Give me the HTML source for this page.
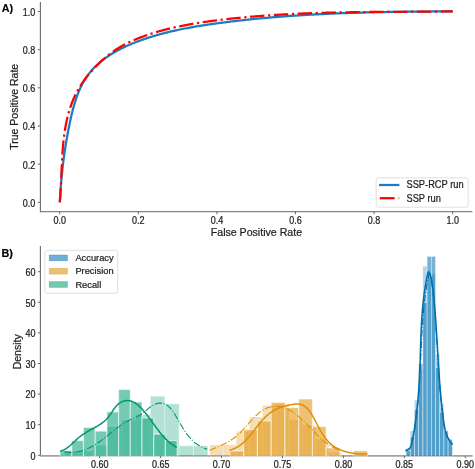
<!DOCTYPE html>
<html><head><meta charset="utf-8"><style>
html,body{margin:0;padding:0;background:#fff;}
body{width:475px;height:469px;overflow:hidden;font-family:"Liberation Sans",sans-serif;}
svg{display:block;will-change:transform;filter:blur(0.3px);}
</style></head><body>
<svg width="475" height="469" viewBox="0 0 475 469">
<rect width="475" height="469" fill="#fff"/>
<path d="M59.80,202.30 L59.87,200.99 L59.94,199.68 L60.01,198.37 L60.08,197.07 L60.16,195.77 L60.24,194.47 L60.32,193.18 L60.41,191.89 L60.50,190.60 L60.59,189.31 L60.68,188.03 L60.78,186.75 L60.88,185.47 L60.98,184.20 L61.08,182.93 L61.19,181.66 L61.30,180.39 L61.41,179.12 L61.53,177.86 L61.65,176.59 L61.77,175.33 L61.89,174.07 L62.02,172.82 L62.15,171.56 L62.29,170.31 L62.42,169.05 L62.56,167.80 L62.71,166.55 L62.85,165.30 L63.00,164.05 L63.16,162.80 L63.31,161.55 L63.47,160.30 L63.63,159.05 L63.80,157.81 L63.97,156.56 L64.14,155.31 L64.31,154.07 L64.49,152.82 L64.67,151.57 L64.86,150.32 L65.05,149.08 L65.24,147.83 L65.44,146.58 L65.64,145.33 L65.84,144.08 L66.05,142.83 L66.26,141.58 L66.47,140.32 L66.69,139.07 L66.91,137.81 L67.13,136.56 L67.36,135.30 L67.59,134.04 L67.83,132.78 L68.07,131.52 L68.31,130.25 L68.56,128.98 L68.81,127.71 L69.06,126.44 L69.32,125.17 L69.58,123.89 L69.85,122.62 L70.12,121.34 L70.40,120.05 L70.68,118.77 L70.96,117.49 L71.25,116.21 L71.55,114.92 L71.86,113.64 L72.17,112.36 L72.49,111.08 L72.81,109.81 L73.15,108.53 L73.49,107.26 L73.84,105.99 L74.21,104.73 L74.58,103.47 L74.96,102.22 L75.35,100.97 L75.75,99.73 L76.16,98.49 L76.59,97.26 L77.03,96.04 L77.48,94.83 L77.94,93.62 L78.41,92.42 L78.90,91.24 L79.40,90.06 L79.92,88.89 L80.45,87.73 L81.00,86.58 L81.56,85.45 L82.13,84.32 L82.73,83.21 L83.33,82.11 L83.96,81.03 L84.60,79.95 L85.26,78.89 L85.94,77.85 L86.64,76.82 L87.35,75.81 L88.09,74.81 L88.84,73.82 L89.60,72.85 L90.39,71.90 L91.19,70.96 L92.00,70.03 L92.84,69.11 L93.68,68.21 L94.55,67.33 L95.43,66.45 L96.32,65.59 L97.22,64.75 L98.15,63.91 L99.08,63.09 L100.03,62.28 L100.99,61.49 L101.96,60.71 L102.95,59.94 L103.95,59.18 L104.96,58.43 L105.98,57.70 L107.01,56.97 L108.05,56.26 L109.11,55.56 L110.17,54.87 L111.24,54.19 L112.33,53.53 L113.42,52.87 L114.52,52.23 L115.63,51.59 L116.75,50.97 L117.88,50.35 L119.01,49.75 L120.16,49.16 L121.30,48.57 L122.46,48.00 L123.62,47.43 L124.79,46.88 L125.96,46.33 L127.14,45.79 L128.33,45.27 L129.52,44.75 L130.71,44.24 L131.91,43.73 L133.11,43.24 L134.32,42.75 L135.53,42.28 L136.74,41.81 L137.96,41.35 L139.18,40.89 L140.40,40.45 L141.62,40.01 L142.84,39.57 L144.06,39.15 L145.29,38.73 L146.52,38.32 L147.74,37.92 L148.97,37.52 L150.20,37.13 L151.43,36.74 L152.66,36.37 L153.89,35.99 L155.13,35.63 L156.36,35.27 L157.60,34.92 L158.83,34.57 L160.07,34.23 L161.31,33.89 L162.55,33.56 L163.79,33.24 L165.03,32.92 L166.27,32.61 L167.51,32.30 L168.75,32.00 L170.00,31.70 L171.24,31.41 L172.49,31.12 L173.73,30.83 L174.98,30.56 L176.23,30.28 L177.48,30.01 L178.72,29.75 L179.97,29.49 L181.22,29.23 L182.48,28.98 L183.73,28.73 L184.98,28.49 L186.23,28.25 L187.49,28.02 L188.74,27.78 L190.00,27.55 L191.25,27.33 L192.51,27.11 L193.76,26.89 L195.02,26.68 L196.28,26.46 L197.54,26.26 L198.79,26.05 L200.05,25.85 L201.31,25.65 L202.57,25.45 L203.83,25.26 L205.09,25.06 L206.36,24.87 L207.62,24.69 L208.88,24.50 L210.14,24.32 L211.40,24.14 L212.67,23.96 L213.93,23.78 L215.19,23.61 L216.46,23.43 L217.72,23.26 L218.99,23.09 L220.25,22.92 L221.52,22.76 L222.78,22.59 L224.05,22.43 L225.32,22.27 L226.58,22.11 L227.85,21.95 L229.12,21.79 L230.38,21.64 L231.65,21.48 L232.92,21.33 L234.19,21.18 L235.46,21.03 L236.72,20.88 L237.99,20.74 L239.26,20.59 L240.53,20.45 L241.80,20.31 L243.07,20.17 L244.34,20.03 L245.61,19.89 L246.88,19.75 L248.16,19.62 L249.43,19.49 L250.70,19.36 L251.97,19.23 L253.24,19.10 L254.51,18.97 L255.79,18.85 L257.06,18.72 L258.33,18.60 L259.60,18.48 L260.88,18.36 L262.15,18.24 L263.43,18.12 L264.70,18.01 L265.97,17.89 L267.25,17.78 L268.52,17.67 L269.80,17.56 L271.07,17.45 L272.35,17.34 L273.62,17.23 L274.90,17.13 L276.17,17.02 L277.45,16.92 L278.73,16.82 L280.00,16.72 L281.28,16.62 L282.55,16.52 L283.83,16.43 L285.11,16.33 L286.38,16.24 L287.66,16.15 L288.94,16.05 L290.22,15.96 L291.49,15.87 L292.77,15.79 L294.05,15.70 L295.33,15.61 L296.61,15.53 L297.88,15.45 L299.16,15.36 L300.44,15.28 L301.72,15.20 L303.00,15.13 L304.28,15.05 L305.56,14.97 L306.84,14.90 L308.12,14.82 L309.39,14.75 L310.67,14.68 L311.95,14.60 L313.23,14.53 L314.51,14.47 L315.79,14.40 L317.07,14.33 L318.35,14.26 L319.63,14.20 L320.91,14.14 L322.19,14.07 L323.47,14.01 L324.75,13.95 L326.03,13.89 L327.32,13.83 L328.60,13.77 L329.88,13.72 L331.16,13.66 L332.44,13.60 L333.72,13.55 L335.00,13.50 L336.28,13.44 L337.56,13.39 L338.84,13.34 L340.12,13.29 L341.41,13.24 L342.69,13.20 L343.97,13.15 L345.25,13.10 L346.53,13.06 L347.81,13.01 L349.09,12.97 L350.37,12.92 L351.66,12.88 L352.94,12.84 L354.22,12.80 L355.50,12.76 L356.78,12.72 L358.06,12.68 L359.34,12.65 L360.63,12.61 L361.91,12.57 L363.19,12.54 L364.47,12.50 L365.75,12.47 L367.03,12.44 L368.31,12.40 L369.60,12.37 L370.88,12.34 L372.16,12.31 L373.44,12.28 L374.72,12.25 L376.00,12.22 L377.28,12.19 L378.56,12.17 L379.84,12.14 L381.13,12.11 L382.41,12.09 L383.69,12.06 L384.97,12.04 L386.25,12.02 L387.53,11.99 L388.81,11.97 L390.09,11.95 L391.37,11.93 L392.65,11.91 L393.93,11.89 L395.21,11.87 L396.49,11.85 L397.77,11.83 L399.05,11.81 L400.33,11.79 L401.61,11.78 L402.89,11.76 L404.17,11.74 L405.45,11.73 L406.73,11.71 L408.01,11.70 L409.29,11.68 L410.57,11.67 L411.85,11.66 L413.13,11.64 L414.41,11.63 L415.68,11.62 L416.96,11.61 L418.24,11.60 L419.52,11.58 L420.80,11.57 L422.08,11.56 L423.35,11.55 L424.63,11.54 L425.91,11.53 L427.19,11.52 L428.46,11.52 L429.74,11.51 L431.02,11.50 L432.29,11.49 L433.57,11.48 L434.85,11.48 L436.12,11.47 L437.40,11.46 L438.68,11.46 L439.95,11.45 L441.23,11.44 L442.50,11.44 L443.78,11.43 L445.05,11.43 L446.33,11.42 L447.60,11.42 L448.88,11.41 L450.15,11.41 L451.43,11.40 L452.70,11.40" fill="none" stroke="#1a7cc2" stroke-width="2.25" stroke-linejoin="round"/>
<path d="M59.80,202.30 L59.91,201.05 L60.01,199.81 L60.11,198.56 L60.21,197.30 L60.30,196.05 L60.38,194.79 L60.46,193.52 L60.54,192.26 L60.62,190.99 L60.69,189.71 L60.76,188.44 L60.82,187.16 L60.89,185.88 L60.95,184.60 L61.01,183.32 L61.07,182.03 L61.12,180.74 L61.18,179.45 L61.23,178.16 L61.29,176.87 L61.34,175.58 L61.40,174.28 L61.45,172.98 L61.50,171.69 L61.56,170.39 L61.61,169.09 L61.67,167.79 L61.73,166.49 L61.79,165.18 L61.85,163.88 L61.91,162.58 L61.98,161.28 L62.04,159.98 L62.12,158.67 L62.19,157.37 L62.27,156.07 L62.35,154.77 L62.43,153.47 L62.52,152.17 L62.61,150.87 L62.71,149.57 L62.81,148.27 L62.92,146.97 L63.03,145.68 L63.15,144.39 L63.28,143.09 L63.41,141.80 L63.54,140.51 L63.69,139.23 L63.84,137.94 L63.99,136.66 L64.16,135.38 L64.33,134.10 L64.51,132.82 L64.70,131.55 L64.89,130.28 L65.10,129.01 L65.31,127.74 L65.53,126.48 L65.76,125.22 L66.00,123.96 L66.26,122.71 L66.52,121.46 L66.79,120.21 L67.07,118.97 L67.36,117.73 L67.67,116.50 L67.98,115.27 L68.31,114.04 L68.64,112.82 L68.99,111.60 L69.36,110.39 L69.73,109.18 L70.12,107.98 L70.52,106.78 L70.93,105.58 L71.36,104.39 L71.80,103.21 L72.26,102.03 L72.73,100.86 L73.21,99.69 L73.71,98.53 L74.22,97.37 L74.75,96.22 L75.30,95.08 L75.86,93.94 L76.43,92.81 L77.03,91.68 L77.63,90.56 L78.26,89.45 L78.90,88.34 L79.56,87.25 L80.23,86.15 L80.92,85.07 L81.62,83.99 L82.34,82.92 L83.07,81.86 L83.81,80.80 L84.57,79.75 L85.34,78.71 L86.12,77.68 L86.92,76.65 L87.73,75.64 L88.55,74.63 L89.38,73.63 L90.22,72.63 L91.07,71.65 L91.94,70.68 L92.81,69.71 L93.69,68.75 L94.58,67.80 L95.49,66.86 L96.40,65.93 L97.32,65.01 L98.24,64.10 L99.18,63.19 L100.12,62.30 L101.07,61.42 L102.03,60.54 L102.99,59.68 L103.96,58.83 L104.94,57.98 L105.92,57.15 L106.91,56.33 L107.91,55.52 L108.92,54.72 L109.93,53.94 L110.96,53.17 L111.99,52.40 L113.03,51.66 L114.07,50.92 L115.13,50.20 L116.19,49.49 L117.26,48.80 L118.34,48.12 L119.43,47.46 L120.53,46.81 L121.63,46.17 L122.75,45.55 L123.87,44.94 L125.00,44.34 L126.14,43.76 L127.28,43.19 L128.43,42.63 L129.58,42.09 L130.74,41.55 L131.91,41.02 L133.07,40.51 L134.25,40.00 L135.43,39.50 L136.61,39.01 L137.79,38.53 L138.98,38.06 L140.17,37.59 L141.36,37.14 L142.56,36.69 L143.76,36.25 L144.96,35.81 L146.16,35.38 L147.37,34.96 L148.58,34.55 L149.79,34.15 L151.00,33.75 L152.22,33.36 L153.44,32.97 L154.66,32.59 L155.89,32.22 L157.11,31.86 L158.34,31.50 L159.57,31.15 L160.81,30.80 L162.04,30.46 L163.28,30.13 L164.52,29.80 L165.76,29.48 L167.00,29.16 L168.25,28.85 L169.49,28.55 L170.74,28.25 L171.99,27.96 L173.24,27.67 L174.50,27.39 L175.75,27.11 L177.01,26.84 L178.27,26.57 L179.53,26.31 L180.79,26.05 L182.05,25.79 L183.31,25.55 L184.58,25.30 L185.84,25.06 L187.11,24.83 L188.38,24.59 L189.65,24.37 L190.92,24.14 L192.19,23.92 L193.46,23.71 L194.74,23.50 L196.01,23.29 L197.28,23.08 L198.56,22.88 L199.84,22.69 L201.11,22.49 L202.39,22.30 L203.67,22.11 L204.94,21.93 L206.22,21.74 L207.50,21.56 L208.78,21.39 L210.06,21.21 L211.34,21.04 L212.62,20.87 L213.90,20.70 L215.18,20.54 L216.46,20.38 L217.74,20.22 L219.02,20.06 L220.30,19.90 L221.58,19.75 L222.86,19.59 L224.14,19.44 L225.42,19.30 L226.70,19.15 L227.98,19.00 L229.26,18.86 L230.54,18.72 L231.82,18.58 L233.10,18.45 L234.38,18.31 L235.67,18.18 L236.95,18.05 L238.23,17.92 L239.51,17.79 L240.79,17.67 L242.07,17.54 L243.35,17.42 L244.63,17.30 L245.91,17.18 L247.19,17.07 L248.47,16.95 L249.75,16.84 L251.03,16.73 L252.32,16.62 L253.60,16.51 L254.88,16.41 L256.16,16.30 L257.44,16.20 L258.72,16.10 L260.00,16.00 L261.28,15.90 L262.57,15.80 L263.85,15.71 L265.13,15.62 L266.41,15.53 L267.69,15.44 L268.97,15.35 L270.25,15.26 L271.54,15.18 L272.82,15.09 L274.10,15.01 L275.38,14.93 L276.66,14.85 L277.94,14.77 L279.23,14.69 L280.51,14.62 L281.79,14.55 L283.07,14.47 L284.35,14.40 L285.63,14.33 L286.92,14.26 L288.20,14.20 L289.48,14.13 L290.76,14.07 L292.05,14.00 L293.33,13.94 L294.61,13.88 L295.89,13.82 L297.17,13.76 L298.46,13.71 L299.74,13.65 L301.02,13.59 L302.30,13.54 L303.59,13.49 L304.87,13.44 L306.15,13.39 L307.43,13.34 L308.72,13.29 L310.00,13.24 L311.28,13.20 L312.57,13.15 L313.85,13.11 L315.13,13.07 L316.41,13.02 L317.70,12.98 L318.98,12.94 L320.26,12.91 L321.55,12.87 L322.83,12.83 L324.11,12.79 L325.40,12.76 L326.68,12.73 L327.96,12.69 L329.25,12.66 L330.53,12.63 L331.81,12.60 L333.10,12.57 L334.38,12.54 L335.66,12.51 L336.95,12.48 L338.23,12.46 L339.52,12.43 L340.80,12.40 L342.08,12.38 L343.37,12.36 L344.65,12.33 L345.94,12.31 L347.22,12.29 L348.50,12.27 L349.79,12.25 L351.07,12.23 L352.36,12.21 L353.64,12.19 L354.93,12.17 L356.21,12.15 L357.49,12.14 L358.78,12.12 L360.06,12.10 L361.35,12.09 L362.63,12.07 L363.92,12.06 L365.20,12.04 L366.49,12.03 L367.77,12.02 L369.06,12.00 L370.34,11.99 L371.63,11.98 L372.91,11.97 L374.20,11.96 L375.48,11.95 L376.77,11.94 L378.05,11.93 L379.34,11.92 L380.62,11.91 L381.91,11.90 L383.20,11.89 L384.48,11.88 L385.77,11.87 L387.05,11.86 L388.34,11.85 L389.62,11.85 L390.91,11.84 L392.20,11.83 L393.48,11.82 L394.77,11.82 L396.05,11.81 L397.34,11.80 L398.63,11.79 L399.91,11.79 L401.20,11.78 L402.49,11.77 L403.77,11.77 L405.06,11.76 L406.34,11.75 L407.63,11.75 L408.92,11.74 L410.20,11.73 L411.49,11.73 L412.78,11.72 L414.07,11.71 L415.35,11.71 L416.64,11.70 L417.93,11.69 L419.21,11.68 L420.50,11.68 L421.79,11.67 L423.08,11.66 L424.36,11.65 L425.65,11.64 L426.94,11.64 L428.23,11.63 L429.51,11.62 L430.80,11.61 L432.09,11.60 L433.38,11.59 L434.66,11.58 L435.95,11.57 L437.24,11.56 L438.53,11.55 L439.82,11.54 L441.10,11.52 L442.39,11.51 L443.68,11.50 L444.97,11.49 L446.26,11.47 L447.55,11.46 L448.83,11.44 L450.12,11.43 L451.41,11.41 L452.70,11.40" fill="none" stroke="#f00" stroke-width="2.25" stroke-dasharray="14.40 3.60 2.25 3.60" stroke-linejoin="round"/>
<line x1="40.4" y1="2.0" x2="40.4" y2="212.2" stroke="#6a6a6a" stroke-width="1.1"/>
<line x1="39.9" y1="211.6" x2="472.4" y2="211.6" stroke="#848484" stroke-width="1.4"/>
<line x1="37.8" y1="202.30" x2="40.4" y2="202.30" stroke="#6a6a6a" stroke-width="1"/>
<text transform="matrix(1,0,0,1.12,0,-24.37)" x="35.3" y="206.30" font-family="Liberation Sans, sans-serif" stroke="#1e1e1e" stroke-width="0.22" font-size="9" fill="#1e1e1e" text-anchor="end">0.0</text>
<line x1="37.8" y1="164.14" x2="40.4" y2="164.14" stroke="#6a6a6a" stroke-width="1"/>
<text transform="matrix(1,0,0,1.12,0,-19.79)" x="35.3" y="168.14" font-family="Liberation Sans, sans-serif" stroke="#1e1e1e" stroke-width="0.22" font-size="9" fill="#1e1e1e" text-anchor="end">0.2</text>
<line x1="37.8" y1="125.98" x2="40.4" y2="125.98" stroke="#6a6a6a" stroke-width="1"/>
<text transform="matrix(1,0,0,1.12,0,-15.21)" x="35.3" y="129.98" font-family="Liberation Sans, sans-serif" stroke="#1e1e1e" stroke-width="0.22" font-size="9" fill="#1e1e1e" text-anchor="end">0.4</text>
<line x1="37.8" y1="87.82" x2="40.4" y2="87.82" stroke="#6a6a6a" stroke-width="1"/>
<text transform="matrix(1,0,0,1.12,0,-10.63)" x="35.3" y="91.82" font-family="Liberation Sans, sans-serif" stroke="#1e1e1e" stroke-width="0.22" font-size="9" fill="#1e1e1e" text-anchor="end">0.6</text>
<line x1="37.8" y1="49.66" x2="40.4" y2="49.66" stroke="#6a6a6a" stroke-width="1"/>
<text transform="matrix(1,0,0,1.12,0,-6.06)" x="35.3" y="53.66" font-family="Liberation Sans, sans-serif" stroke="#1e1e1e" stroke-width="0.22" font-size="9" fill="#1e1e1e" text-anchor="end">0.8</text>
<line x1="37.8" y1="11.50" x2="40.4" y2="11.50" stroke="#6a6a6a" stroke-width="1"/>
<text transform="matrix(1,0,0,1.12,0,-1.48)" x="35.3" y="15.50" font-family="Liberation Sans, sans-serif" stroke="#1e1e1e" stroke-width="0.22" font-size="9" fill="#1e1e1e" text-anchor="end">1.0</text>
<line x1="59.70" y1="211.6" x2="59.70" y2="214.2" stroke="#6a6a6a" stroke-width="1"/>
<text transform="matrix(1,0,0,1.12,0,-26.45)" x="59.70" y="223.6" font-family="Liberation Sans, sans-serif" stroke="#1e1e1e" stroke-width="0.22" font-size="9" fill="#1e1e1e" text-anchor="middle">0.0</text>
<line x1="138.30" y1="211.6" x2="138.30" y2="214.2" stroke="#6a6a6a" stroke-width="1"/>
<text transform="matrix(1,0,0,1.12,0,-26.45)" x="138.30" y="223.6" font-family="Liberation Sans, sans-serif" stroke="#1e1e1e" stroke-width="0.22" font-size="9" fill="#1e1e1e" text-anchor="middle">0.2</text>
<line x1="216.90" y1="211.6" x2="216.90" y2="214.2" stroke="#6a6a6a" stroke-width="1"/>
<text transform="matrix(1,0,0,1.12,0,-26.45)" x="216.90" y="223.6" font-family="Liberation Sans, sans-serif" stroke="#1e1e1e" stroke-width="0.22" font-size="9" fill="#1e1e1e" text-anchor="middle">0.4</text>
<line x1="295.50" y1="211.6" x2="295.50" y2="214.2" stroke="#6a6a6a" stroke-width="1"/>
<text transform="matrix(1,0,0,1.12,0,-26.45)" x="295.50" y="223.6" font-family="Liberation Sans, sans-serif" stroke="#1e1e1e" stroke-width="0.22" font-size="9" fill="#1e1e1e" text-anchor="middle">0.6</text>
<line x1="374.10" y1="211.6" x2="374.10" y2="214.2" stroke="#6a6a6a" stroke-width="1"/>
<text transform="matrix(1,0,0,1.12,0,-26.45)" x="374.10" y="223.6" font-family="Liberation Sans, sans-serif" stroke="#1e1e1e" stroke-width="0.22" font-size="9" fill="#1e1e1e" text-anchor="middle">0.8</text>
<line x1="452.70" y1="211.6" x2="452.70" y2="214.2" stroke="#6a6a6a" stroke-width="1"/>
<text transform="matrix(1,0,0,1.12,0,-26.45)" x="452.70" y="223.6" font-family="Liberation Sans, sans-serif" stroke="#1e1e1e" stroke-width="0.22" font-size="9" fill="#1e1e1e" text-anchor="middle">1.0</text>
<text x="256.4" y="235.8" font-family="Liberation Sans, sans-serif" stroke="#1e1e1e" stroke-width="0.22" font-size="10.6" fill="#1e1e1e" text-anchor="middle">False Positive Rate</text>
<text transform="translate(18,106.8) rotate(-90)" x="0" y="0" font-family="Liberation Sans, sans-serif" stroke="#1e1e1e" stroke-width="0.22" font-size="10.5" fill="#1e1e1e" text-anchor="middle">True Positive Rate</text>
<text x="1.8" y="12.4" font-family="Liberation Sans, sans-serif" font-size="10.8" font-weight="bold" fill="#000" stroke="#000" stroke-width="0.12">A)</text>
<rect x="376.2" y="177.8" width="92.0" height="29.4" rx="2" ry="2" fill="#fff" fill-opacity="0.8" stroke="#dcdcdc" stroke-width="0.9"/>
<line x1="379" y1="185" x2="399.4" y2="185" stroke="#1a7cc2" stroke-width="2.25"/>
<line x1="379.8" y1="198.2" x2="394.6" y2="198.2" stroke="#f00" stroke-width="2.25"/>
<line x1="397.8" y1="198.2" x2="400.0" y2="198.2" stroke="#f00" stroke-opacity="0.25" stroke-width="2.25"/>
<text transform="matrix(1,0,0,1.08,0,-15.07)" x="406.5" y="188.4" font-family="Liberation Sans, sans-serif" stroke="#1e1e1e" stroke-width="0.22" font-size="9.3" fill="#1e1e1e">SSP-RCP run</text>
<text transform="matrix(1,0,0,1.08,0,-16.13)" x="406.5" y="201.6" font-family="Liberation Sans, sans-serif" stroke="#1e1e1e" stroke-width="0.22" font-size="9.3" fill="#1e1e1e">SSP run</text>
<line x1="40.4" y1="246.0" x2="40.4" y2="455.6" stroke="#6a6a6a" stroke-width="1.1"/>
<line x1="39.9" y1="455.9" x2="472.6" y2="455.9" stroke="#a2a2a2" stroke-width="1.6"/>
<rect x="64.40" y="451.32" width="14.34" height="4.88" fill="#029e73" fill-opacity="0.3" stroke="#fff" stroke-opacity="0.3" stroke-width="1.0"/>
<rect x="78.74" y="451.02" width="14.34" height="5.18" fill="#029e73" fill-opacity="0.3" stroke="#fff" stroke-opacity="0.3" stroke-width="1.0"/>
<rect x="93.08" y="445.51" width="14.34" height="10.69" fill="#029e73" fill-opacity="0.3" stroke="#fff" stroke-opacity="0.3" stroke-width="1.0"/>
<rect x="107.42" y="426.84" width="14.34" height="29.36" fill="#029e73" fill-opacity="0.3" stroke="#fff" stroke-opacity="0.3" stroke-width="1.0"/>
<rect x="121.76" y="420.11" width="14.34" height="36.09" fill="#029e73" fill-opacity="0.3" stroke="#fff" stroke-opacity="0.3" stroke-width="1.0"/>
<rect x="136.10" y="414.60" width="14.34" height="41.60" fill="#029e73" fill-opacity="0.3" stroke="#fff" stroke-opacity="0.3" stroke-width="1.0"/>
<rect x="150.44" y="396.24" width="14.34" height="59.96" fill="#029e73" fill-opacity="0.3" stroke="#fff" stroke-opacity="0.3" stroke-width="1.0"/>
<rect x="164.78" y="403.89" width="14.34" height="52.31" fill="#029e73" fill-opacity="0.3" stroke="#fff" stroke-opacity="0.3" stroke-width="1.0"/>
<rect x="179.12" y="445.81" width="14.34" height="10.39" fill="#029e73" fill-opacity="0.3" stroke="#fff" stroke-opacity="0.3" stroke-width="1.0"/>
<rect x="193.46" y="445.81" width="14.34" height="10.39" fill="#029e73" fill-opacity="0.3" stroke="#fff" stroke-opacity="0.3" stroke-width="1.0"/>
<rect x="60.10" y="450.40" width="11.70" height="5.80" fill="#029e73" fill-opacity="0.55" stroke="#fff" stroke-opacity="0.55" stroke-width="1.15"/>
<rect x="71.80" y="440.61" width="11.70" height="15.59" fill="#029e73" fill-opacity="0.55" stroke="#fff" stroke-opacity="0.55" stroke-width="1.15"/>
<rect x="83.50" y="427.45" width="11.70" height="28.75" fill="#029e73" fill-opacity="0.55" stroke="#fff" stroke-opacity="0.55" stroke-width="1.15"/>
<rect x="95.20" y="431.13" width="11.70" height="25.07" fill="#029e73" fill-opacity="0.55" stroke="#fff" stroke-opacity="0.55" stroke-width="1.15"/>
<rect x="106.90" y="411.85" width="11.70" height="44.35" fill="#029e73" fill-opacity="0.55" stroke="#fff" stroke-opacity="0.55" stroke-width="1.15"/>
<rect x="118.60" y="389.51" width="11.70" height="66.69" fill="#029e73" fill-opacity="0.55" stroke="#fff" stroke-opacity="0.55" stroke-width="1.15"/>
<rect x="130.30" y="402.06" width="11.70" height="54.14" fill="#029e73" fill-opacity="0.55" stroke="#fff" stroke-opacity="0.55" stroke-width="1.15"/>
<rect x="142.00" y="417.97" width="11.70" height="38.23" fill="#029e73" fill-opacity="0.55" stroke="#fff" stroke-opacity="0.55" stroke-width="1.15"/>
<rect x="153.70" y="434.19" width="11.70" height="22.01" fill="#029e73" fill-opacity="0.55" stroke="#fff" stroke-opacity="0.55" stroke-width="1.15"/>
<rect x="165.40" y="440.61" width="11.70" height="15.59" fill="#029e73" fill-opacity="0.55" stroke="#fff" stroke-opacity="0.55" stroke-width="1.15"/>
<rect x="209.80" y="444.90" width="13.20" height="11.30" fill="#de8f05" fill-opacity="0.3" stroke="#fff" stroke-opacity="0.3" stroke-width="1.0"/>
<rect x="223.00" y="444.90" width="13.20" height="11.30" fill="#de8f05" fill-opacity="0.3" stroke="#fff" stroke-opacity="0.3" stroke-width="1.0"/>
<rect x="236.20" y="431.43" width="13.20" height="24.77" fill="#de8f05" fill-opacity="0.3" stroke="#fff" stroke-opacity="0.3" stroke-width="1.0"/>
<rect x="249.40" y="417.05" width="13.20" height="39.15" fill="#de8f05" fill-opacity="0.3" stroke="#fff" stroke-opacity="0.3" stroke-width="1.0"/>
<rect x="262.60" y="405.42" width="13.20" height="50.78" fill="#de8f05" fill-opacity="0.3" stroke="#fff" stroke-opacity="0.3" stroke-width="1.0"/>
<rect x="275.80" y="403.89" width="13.20" height="52.31" fill="#de8f05" fill-opacity="0.3" stroke="#fff" stroke-opacity="0.3" stroke-width="1.0"/>
<rect x="289.00" y="419.50" width="13.20" height="36.70" fill="#de8f05" fill-opacity="0.3" stroke="#fff" stroke-opacity="0.3" stroke-width="1.0"/>
<rect x="302.20" y="425.01" width="13.20" height="31.19" fill="#de8f05" fill-opacity="0.3" stroke="#fff" stroke-opacity="0.3" stroke-width="1.0"/>
<rect x="315.40" y="439.08" width="13.20" height="17.12" fill="#de8f05" fill-opacity="0.3" stroke="#fff" stroke-opacity="0.3" stroke-width="1.0"/>
<rect x="328.60" y="452.24" width="13.20" height="3.96" fill="#de8f05" fill-opacity="0.3" stroke="#fff" stroke-opacity="0.3" stroke-width="1.0"/>
<rect x="229.90" y="451.02" width="13.76" height="5.18" fill="#de8f05" fill-opacity="0.55" stroke="#fff" stroke-opacity="0.55" stroke-width="1.15"/>
<rect x="243.66" y="429.60" width="13.76" height="26.60" fill="#de8f05" fill-opacity="0.55" stroke="#fff" stroke-opacity="0.55" stroke-width="1.15"/>
<rect x="257.42" y="421.03" width="13.76" height="35.17" fill="#de8f05" fill-opacity="0.55" stroke="#fff" stroke-opacity="0.55" stroke-width="1.15"/>
<rect x="271.18" y="402.36" width="13.76" height="53.84" fill="#de8f05" fill-opacity="0.55" stroke="#fff" stroke-opacity="0.55" stroke-width="1.15"/>
<rect x="284.94" y="407.56" width="13.76" height="48.64" fill="#de8f05" fill-opacity="0.55" stroke="#fff" stroke-opacity="0.55" stroke-width="1.15"/>
<rect x="298.70" y="399.00" width="13.76" height="57.20" fill="#de8f05" fill-opacity="0.55" stroke="#fff" stroke-opacity="0.55" stroke-width="1.15"/>
<rect x="312.46" y="426.54" width="13.76" height="29.66" fill="#de8f05" fill-opacity="0.55" stroke="#fff" stroke-opacity="0.55" stroke-width="1.15"/>
<rect x="326.22" y="447.96" width="13.76" height="8.24" fill="#de8f05" fill-opacity="0.55" stroke="#fff" stroke-opacity="0.55" stroke-width="1.15"/>
<rect x="353.74" y="450.71" width="13.76" height="5.49" fill="#de8f05" fill-opacity="0.55" stroke="#fff" stroke-opacity="0.55" stroke-width="1.15"/>
<rect x="406.10" y="448.26" width="4.20" height="7.94" fill="#0173b2" fill-opacity="0.3" stroke="#fff" stroke-opacity="0.3" stroke-width="0.7"/>
<rect x="410.30" y="430.82" width="4.20" height="25.38" fill="#0173b2" fill-opacity="0.3" stroke="#fff" stroke-opacity="0.3" stroke-width="0.7"/>
<rect x="414.50" y="400.22" width="4.20" height="55.98" fill="#0173b2" fill-opacity="0.3" stroke="#fff" stroke-opacity="0.3" stroke-width="0.7"/>
<rect x="418.70" y="369.62" width="4.20" height="86.58" fill="#0173b2" fill-opacity="0.3" stroke="#fff" stroke-opacity="0.3" stroke-width="0.7"/>
<rect x="422.90" y="266.19" width="4.20" height="190.01" fill="#0173b2" fill-opacity="0.3" stroke="#fff" stroke-opacity="0.3" stroke-width="0.7"/>
<rect x="427.10" y="277.82" width="4.20" height="178.38" fill="#0173b2" fill-opacity="0.3" stroke="#fff" stroke-opacity="0.3" stroke-width="0.7"/>
<rect x="431.30" y="274.15" width="4.20" height="182.05" fill="#0173b2" fill-opacity="0.3" stroke="#fff" stroke-opacity="0.3" stroke-width="0.7"/>
<rect x="435.50" y="354.32" width="4.20" height="101.88" fill="#0173b2" fill-opacity="0.3" stroke="#fff" stroke-opacity="0.3" stroke-width="0.7"/>
<rect x="439.70" y="403.28" width="4.20" height="52.92" fill="#0173b2" fill-opacity="0.3" stroke="#fff" stroke-opacity="0.3" stroke-width="0.7"/>
<rect x="443.90" y="432.35" width="4.20" height="23.85" fill="#0173b2" fill-opacity="0.3" stroke="#fff" stroke-opacity="0.3" stroke-width="0.7"/>
<rect x="448.10" y="441.53" width="4.20" height="14.67" fill="#0173b2" fill-opacity="0.3" stroke="#fff" stroke-opacity="0.3" stroke-width="0.7"/>
<rect x="406.10" y="450.71" width="4.20" height="5.49" fill="#0173b2" fill-opacity="0.55" stroke="#fff" stroke-opacity="0.55" stroke-width="0.7"/>
<rect x="410.30" y="436.94" width="4.20" height="19.26" fill="#0173b2" fill-opacity="0.55" stroke="#fff" stroke-opacity="0.55" stroke-width="0.7"/>
<rect x="414.50" y="409.40" width="4.20" height="46.80" fill="#0173b2" fill-opacity="0.55" stroke="#fff" stroke-opacity="0.55" stroke-width="0.7"/>
<rect x="418.70" y="363.50" width="4.20" height="92.70" fill="#0173b2" fill-opacity="0.55" stroke="#fff" stroke-opacity="0.55" stroke-width="0.7"/>
<rect x="422.90" y="302.30" width="4.20" height="153.90" fill="#0173b2" fill-opacity="0.55" stroke="#fff" stroke-opacity="0.55" stroke-width="0.7"/>
<rect x="427.10" y="256.40" width="4.20" height="199.80" fill="#0173b2" fill-opacity="0.55" stroke="#fff" stroke-opacity="0.55" stroke-width="0.7"/>
<rect x="431.30" y="256.40" width="4.20" height="199.80" fill="#0173b2" fill-opacity="0.55" stroke="#fff" stroke-opacity="0.55" stroke-width="0.7"/>
<rect x="435.50" y="367.48" width="4.20" height="88.72" fill="#0173b2" fill-opacity="0.55" stroke="#fff" stroke-opacity="0.55" stroke-width="0.7"/>
<rect x="439.70" y="412.46" width="4.20" height="43.74" fill="#0173b2" fill-opacity="0.55" stroke="#fff" stroke-opacity="0.55" stroke-width="0.7"/>
<rect x="443.90" y="430.82" width="4.20" height="25.38" fill="#0173b2" fill-opacity="0.55" stroke="#fff" stroke-opacity="0.55" stroke-width="0.7"/>
<rect x="448.10" y="439.39" width="4.20" height="16.81" fill="#0173b2" fill-opacity="0.55" stroke="#fff" stroke-opacity="0.55" stroke-width="0.7"/>
<path d="M60.10,451.20 L60.50,451.10 L60.89,450.98 L61.27,450.86 L61.65,450.73 L62.03,450.60 L62.40,450.46 L62.76,450.31 L63.13,450.16 L63.48,450.00 L63.84,449.83 L64.19,449.66 L64.53,449.48 L64.87,449.29 L65.21,449.10 L65.54,448.91 L65.87,448.71 L66.20,448.51 L66.53,448.30 L66.85,448.08 L67.16,447.86 L67.48,447.64 L67.79,447.41 L68.10,447.18 L68.41,446.95 L68.71,446.71 L69.02,446.47 L69.32,446.23 L69.61,445.98 L69.91,445.73 L70.21,445.48 L70.50,445.22 L70.79,444.96 L71.08,444.70 L71.37,444.44 L71.66,444.18 L71.95,443.91 L72.23,443.65 L72.52,443.38 L72.80,443.11 L73.09,442.84 L73.37,442.57 L73.66,442.30 L73.94,442.03 L74.22,441.75 L74.51,441.48 L74.79,441.21 L75.08,440.94 L75.36,440.67 L75.65,440.40 L75.94,440.13 L76.22,439.86 L76.51,439.59 L76.80,439.33 L77.09,439.06 L77.39,438.80 L77.68,438.54 L77.98,438.28 L78.27,438.02 L78.57,437.77 L78.87,437.51 L79.18,437.26 L79.48,437.02 L79.79,436.77 L80.10,436.53 L80.41,436.29 L80.73,436.05 L81.04,435.82 L81.36,435.59 L81.68,435.36 L82.00,435.13 L82.32,434.90 L82.64,434.68 L82.97,434.46 L83.29,434.24 L83.62,434.02 L83.95,433.80 L84.28,433.59 L84.61,433.37 L84.94,433.16 L85.27,432.95 L85.61,432.74 L85.94,432.54 L86.28,432.33 L86.61,432.13 L86.95,431.92 L87.29,431.72 L87.63,431.52 L87.96,431.32 L88.30,431.12 L88.64,430.93 L88.98,430.73 L89.32,430.54 L89.66,430.34 L90.01,430.15 L90.35,429.96 L90.69,429.76 L91.03,429.57 L91.37,429.38 L91.71,429.19 L92.05,429.00 L92.39,428.81 L92.73,428.62 L93.07,428.43 L93.41,428.24 L93.75,428.05 L94.09,427.87 L94.43,427.68 L94.77,427.49 L95.10,427.30 L95.44,427.11 L95.78,426.92 L96.11,426.74 L96.44,426.55 L96.78,426.36 L97.11,426.16 L97.44,425.97 L97.77,425.78 L98.10,425.59 L98.42,425.39 L98.75,425.19 L99.07,425.00 L99.40,424.80 L99.72,424.59 L100.04,424.39 L100.36,424.19 L100.67,423.98 L100.99,423.77 L101.30,423.56 L101.61,423.34 L101.92,423.12 L102.23,422.90 L102.53,422.68 L102.84,422.45 L103.14,422.22 L103.44,421.99 L103.74,421.75 L104.03,421.51 L104.32,421.27 L104.61,421.02 L104.90,420.77 L105.19,420.51 L105.47,420.25 L105.75,419.99 L106.02,419.72 L106.30,419.45 L106.57,419.17 L106.84,418.89 L107.10,418.60 L107.37,418.31 L107.63,418.01 L107.88,417.70 L108.14,417.39 L108.39,417.08 L108.64,416.76 L108.88,416.44 L109.13,416.11 L109.37,415.79 L109.61,415.45 L109.85,415.12 L110.09,414.78 L110.32,414.44 L110.56,414.10 L110.79,413.75 L111.02,413.41 L111.25,413.06 L111.48,412.71 L111.72,412.37 L111.95,412.02 L112.18,411.67 L112.41,411.32 L112.64,410.98 L112.87,410.63 L113.10,410.29 L113.34,409.94 L113.57,409.60 L113.81,409.27 L114.05,408.93 L114.28,408.60 L114.52,408.27 L114.77,407.94 L115.01,407.62 L115.26,407.30 L115.51,406.99 L115.76,406.68 L116.01,406.38 L116.27,406.08 L116.53,405.78 L116.79,405.50 L117.06,405.22 L117.33,404.94 L117.60,404.68 L117.88,404.42 L118.16,404.16 L118.45,403.92 L118.74,403.68 L119.04,403.45 L119.34,403.23 L119.64,403.02 L119.95,402.82 L120.26,402.62 L120.57,402.44 L120.89,402.26 L121.22,402.09 L121.54,401.93 L121.87,401.78 L122.20,401.64 L122.54,401.50 L122.87,401.38 L123.21,401.26 L123.55,401.16 L123.90,401.06 L124.24,400.97 L124.59,400.89 L124.94,400.82 L125.29,400.76 L125.64,400.71 L125.99,400.67 L126.34,400.64 L126.70,400.61 L127.05,400.60 L127.40,400.59 L127.76,400.60 L128.11,400.61 L128.47,400.64 L128.82,400.67 L129.17,400.71 L129.52,400.77 L129.87,400.83 L130.22,400.90 L130.57,400.99 L130.92,401.08 L131.27,401.18 L131.61,401.30 L131.95,401.42 L132.29,401.55 L132.63,401.69 L132.97,401.84 L133.30,402.00 L133.64,402.16 L133.97,402.34 L134.30,402.52 L134.63,402.71 L134.96,402.91 L135.28,403.12 L135.61,403.33 L135.93,403.55 L136.25,403.77 L136.57,404.00 L136.88,404.24 L137.20,404.49 L137.51,404.74 L137.82,404.99 L138.13,405.25 L138.44,405.52 L138.74,405.79 L139.05,406.06 L139.35,406.34 L139.65,406.63 L139.95,406.91 L140.25,407.20 L140.54,407.50 L140.83,407.80 L141.12,408.10 L141.41,408.40 L141.70,408.71 L141.99,409.01 L142.27,409.32 L142.55,409.64 L142.83,409.95 L143.11,410.27 L143.38,410.58 L143.66,410.90 L143.93,411.22 L144.20,411.54 L144.47,411.85 L144.73,412.17 L145.00,412.49 L145.26,412.81 L145.52,413.13 L145.78,413.45 L146.03,413.77 L146.29,414.09 L146.54,414.41 L146.79,414.73 L147.04,415.05 L147.29,415.37 L147.54,415.69 L147.78,416.01 L148.03,416.33 L148.27,416.65 L148.51,416.97 L148.75,417.29 L148.99,417.61 L149.23,417.92 L149.47,418.24 L149.70,418.56 L149.94,418.88 L150.17,419.20 L150.41,419.52 L150.64,419.84 L150.87,420.15 L151.10,420.47 L151.33,420.79 L151.56,421.10 L151.79,421.42 L152.02,421.74 L152.24,422.05 L152.47,422.37 L152.70,422.68 L152.92,423.00 L153.15,423.31 L153.37,423.63 L153.60,423.94 L153.82,424.25 L154.05,424.57 L154.27,424.88 L154.49,425.19 L154.72,425.50 L154.94,425.81 L155.17,426.12 L155.39,426.43 L155.62,426.74 L155.84,427.05 L156.06,427.35 L156.29,427.66 L156.51,427.97 L156.74,428.27 L156.97,428.58 L157.19,428.88 L157.42,429.18 L157.65,429.49 L157.87,429.79 L158.10,430.09 L158.33,430.39 L158.56,430.69 L158.79,430.99 L159.02,431.28 L159.26,431.58 L159.49,431.88 L159.72,432.17 L159.96,432.47 L160.19,432.76 L160.43,433.05 L160.67,433.34 L160.91,433.63 L161.15,433.92 L161.39,434.21 L161.63,434.50 L161.88,434.78 L162.12,435.07 L162.37,435.35 L162.62,435.64 L162.87,435.92 L163.12,436.20 L163.38,436.48 L163.63,436.76 L163.89,437.03 L164.15,437.31 L164.41,437.59 L164.67,437.86 L164.93,438.13 L165.20,438.40 L165.47,438.67 L165.74,438.94 L166.01,439.21 L166.28,439.47 L166.56,439.74 L166.84,440.00 L167.12,440.26 L167.40,440.53 L167.69,440.78 L167.97,441.04 L168.26,441.30 L168.56,441.55 L168.85,441.81 L169.15,442.06 L169.45,442.31 L169.75,442.56 L170.06,442.80 L170.36,443.05 L170.68,443.29 L170.99,443.54 L171.31,443.78 L171.63,444.02 L171.95,444.26 L172.27,444.49 L172.60,444.73 L172.93,444.96 L173.27,445.19 L173.61,445.42 L173.95,445.65 L174.29,445.87 L174.64,446.10 L174.99,446.32 L175.35,446.54 L175.71,446.76 L176.07,446.97 L176.43,447.19 L176.80,447.40" fill="none" stroke="#02966c" stroke-width="1.5"/>
<path d="M64.40,452.00 L64.87,452.07 L65.34,452.14 L65.81,452.20 L66.28,452.25 L66.75,452.30 L67.21,452.35 L67.68,452.38 L68.14,452.41 L68.60,452.44 L69.06,452.46 L69.52,452.47 L69.98,452.48 L70.43,452.49 L70.89,452.48 L71.34,452.47 L71.79,452.46 L72.24,452.44 L72.69,452.42 L73.14,452.39 L73.58,452.35 L74.03,452.31 L74.47,452.27 L74.91,452.22 L75.35,452.16 L75.79,452.11 L76.23,452.04 L76.67,451.97 L77.10,451.90 L77.54,451.82 L77.97,451.73 L78.40,451.65 L78.83,451.55 L79.26,451.46 L79.69,451.35 L80.11,451.25 L80.54,451.14 L80.96,451.02 L81.39,450.90 L81.81,450.78 L82.23,450.65 L82.65,450.52 L83.06,450.38 L83.48,450.25 L83.89,450.10 L84.31,449.95 L84.72,449.80 L85.13,449.65 L85.54,449.49 L85.95,449.33 L86.36,449.16 L86.77,448.99 L87.17,448.82 L87.58,448.64 L87.98,448.46 L88.38,448.28 L88.78,448.09 L89.18,447.90 L89.58,447.71 L89.98,447.52 L90.37,447.32 L90.77,447.11 L91.16,446.91 L91.55,446.70 L91.94,446.49 L92.33,446.28 L92.72,446.06 L93.11,445.84 L93.50,445.62 L93.88,445.40 L94.27,445.17 L94.65,444.94 L95.04,444.71 L95.42,444.47 L95.80,444.24 L96.18,444.00 L96.56,443.76 L96.93,443.51 L97.31,443.27 L97.68,443.02 L98.06,442.77 L98.43,442.52 L98.80,442.27 L99.17,442.01 L99.54,441.76 L99.91,441.50 L100.28,441.24 L100.65,440.98 L101.01,440.71 L101.38,440.45 L101.74,440.18 L102.11,439.91 L102.47,439.64 L102.83,439.37 L103.19,439.10 L103.55,438.83 L103.91,438.55 L104.26,438.28 L104.62,438.00 L104.98,437.72 L105.33,437.45 L105.68,437.17 L106.04,436.89 L106.39,436.61 L106.74,436.33 L107.09,436.04 L107.44,435.76 L107.79,435.48 L108.14,435.20 L108.49,434.91 L108.84,434.63 L109.19,434.35 L109.54,434.06 L109.89,433.78 L110.24,433.49 L110.59,433.21 L110.93,432.93 L111.28,432.64 L111.63,432.36 L111.98,432.08 L112.33,431.79 L112.68,431.51 L113.02,431.23 L113.37,430.95 L113.72,430.67 L114.07,430.39 L114.42,430.11 L114.77,429.83 L115.12,429.55 L115.47,429.28 L115.82,429.00 L116.18,428.73 L116.53,428.45 L116.88,428.18 L117.24,427.91 L117.59,427.64 L117.95,427.37 L118.31,427.11 L118.66,426.84 L119.02,426.58 L119.38,426.32 L119.74,426.06 L120.10,425.80 L120.47,425.55 L120.83,425.29 L121.20,425.04 L121.56,424.79 L121.93,424.54 L122.30,424.30 L122.67,424.05 L123.04,423.81 L123.42,423.57 L123.79,423.34 L124.17,423.10 L124.55,422.87 L124.93,422.65 L125.31,422.42 L125.69,422.20 L126.08,421.98 L126.47,421.76 L126.85,421.55 L127.25,421.33 L127.64,421.13 L128.03,420.92 L128.43,420.72 L128.83,420.52 L129.23,420.32 L129.63,420.12 L130.03,419.93 L130.43,419.73 L130.83,419.54 L131.24,419.35 L131.64,419.16 L132.05,418.97 L132.45,418.78 L132.86,418.59 L133.26,418.40 L133.67,418.22 L134.07,418.03 L134.48,417.84 L134.88,417.64 L135.29,417.45 L135.69,417.26 L136.09,417.06 L136.49,416.87 L136.89,416.67 L137.29,416.47 L137.69,416.26 L138.08,416.06 L138.48,415.85 L138.87,415.64 L139.26,415.42 L139.65,415.20 L140.03,414.98 L140.42,414.75 L140.80,414.52 L141.18,414.29 L141.55,414.05 L141.92,413.81 L142.29,413.56 L142.66,413.30 L143.02,413.05 L143.38,412.78 L143.74,412.51 L144.09,412.23 L144.44,411.95 L144.79,411.66 L145.13,411.37 L145.48,411.08 L145.82,410.78 L146.16,410.48 L146.50,410.18 L146.84,409.88 L147.18,409.58 L147.52,409.27 L147.86,408.97 L148.21,408.67 L148.56,408.37 L148.91,408.08 L149.26,407.79 L149.62,407.50 L149.98,407.22 L150.35,406.94 L150.72,406.67 L151.10,406.40 L151.48,406.14 L151.86,405.89 L152.25,405.65 L152.65,405.41 L153.04,405.18 L153.44,404.97 L153.84,404.76 L154.25,404.56 L154.66,404.37 L155.07,404.19 L155.48,404.03 L155.90,403.87 L156.32,403.73 L156.74,403.60 L157.16,403.48 L157.58,403.38 L158.00,403.29 L158.43,403.22 L158.85,403.16 L159.28,403.12 L159.71,403.09 L160.13,403.08 L160.56,403.08 L160.99,403.11 L161.41,403.14 L161.83,403.20 L162.25,403.26 L162.67,403.35 L163.08,403.45 L163.49,403.56 L163.89,403.68 L164.28,403.82 L164.67,403.98 L165.05,404.14 L165.43,404.32 L165.80,404.51 L166.17,404.72 L166.53,404.93 L166.88,405.16 L167.23,405.40 L167.57,405.64 L167.91,405.90 L168.24,406.17 L168.57,406.45 L168.89,406.73 L169.21,407.03 L169.52,407.33 L169.83,407.65 L170.13,407.97 L170.43,408.30 L170.73,408.63 L171.02,408.97 L171.31,409.32 L171.59,409.68 L171.87,410.04 L172.15,410.40 L172.42,410.77 L172.69,411.15 L172.96,411.53 L173.23,411.91 L173.49,412.30 L173.75,412.69 L174.01,413.09 L174.26,413.49 L174.51,413.89 L174.76,414.29 L175.01,414.69 L175.26,415.10 L175.50,415.50 L175.75,415.91 L175.99,416.32 L176.23,416.72 L176.47,417.13 L176.71,417.54 L176.94,417.94 L177.18,418.35 L177.41,418.75 L177.65,419.16 L177.88,419.56 L178.11,419.96 L178.35,420.36 L178.58,420.77 L178.81,421.17 L179.04,421.57 L179.27,421.96 L179.50,422.36 L179.73,422.76 L179.96,423.15 L180.19,423.55 L180.42,423.94 L180.65,424.34 L180.88,424.73 L181.11,425.12 L181.34,425.51 L181.57,425.89 L181.80,426.28 L182.03,426.67 L182.26,427.05 L182.49,427.43 L182.73,427.81 L182.96,428.19 L183.19,428.57 L183.43,428.95 L183.67,429.32 L183.90,429.69 L184.14,430.06 L184.38,430.43 L184.62,430.80 L184.86,431.17 L185.11,431.53 L185.35,431.89 L185.60,432.25 L185.85,432.61 L186.10,432.96 L186.35,433.32 L186.60,433.67 L186.86,434.02 L187.11,434.37 L187.37,434.71 L187.63,435.05 L187.90,435.39 L188.16,435.73 L188.43,436.07 L188.70,436.40 L188.97,436.73 L189.25,437.06 L189.52,437.38 L189.80,437.71 L190.09,438.03 L190.37,438.34 L190.66,438.66 L190.95,438.97 L191.25,439.28 L191.54,439.59 L191.84,439.89 L192.15,440.19 L192.45,440.49 L192.76,440.78 L193.08,441.07 L193.39,441.36 L193.71,441.65 L194.04,441.93 L194.37,442.21 L194.70,442.48 L195.03,442.76 L195.37,443.03 L195.72,443.29 L196.06,443.55 L196.41,443.81 L196.77,444.07 L197.13,444.32 L197.49,444.57 L197.86,444.81 L198.23,445.05 L198.61,445.29 L198.99,445.52 L199.38,445.75 L199.77,445.98 L200.17,446.20 L200.57,446.42 L200.97,446.63 L201.38,446.85 L201.80,447.05 L202.22,447.25 L202.64,447.45 L203.08,447.65 L203.51,447.84 L203.95,448.02 L204.40,448.20 L204.85,448.38 L205.31,448.55 L205.78,448.72 L206.25,448.88 L206.72,449.04 L207.20,449.20" fill="none" stroke="#02966c" stroke-width="1.1" stroke-dasharray="7.04 1.76 1.10 1.76"/>
<path d="M229.40,450.30 L229.86,450.18 L230.31,450.06 L230.75,449.93 L231.20,449.79 L231.63,449.65 L232.07,449.50 L232.50,449.34 L232.92,449.18 L233.34,449.01 L233.76,448.84 L234.17,448.66 L234.58,448.48 L234.98,448.29 L235.38,448.09 L235.78,447.89 L236.17,447.68 L236.56,447.47 L236.95,447.26 L237.33,447.04 L237.71,446.81 L238.09,446.58 L238.46,446.34 L238.83,446.10 L239.19,445.86 L239.55,445.61 L239.91,445.35 L240.27,445.10 L240.62,444.83 L240.97,444.57 L241.32,444.30 L241.66,444.02 L242.00,443.74 L242.34,443.46 L242.68,443.18 L243.01,442.89 L243.34,442.59 L243.67,442.30 L244.00,442.00 L244.32,441.69 L244.64,441.39 L244.96,441.08 L245.28,440.77 L245.59,440.45 L245.90,440.13 L246.21,439.81 L246.52,439.49 L246.83,439.16 L247.13,438.84 L247.44,438.51 L247.74,438.17 L248.04,437.84 L248.34,437.50 L248.63,437.16 L248.93,436.82 L249.22,436.48 L249.51,436.13 L249.81,435.79 L250.09,435.44 L250.38,435.09 L250.67,434.74 L250.96,434.39 L251.24,434.04 L251.53,433.68 L251.81,433.33 L252.10,432.97 L252.38,432.61 L252.66,432.26 L252.94,431.90 L253.22,431.54 L253.50,431.18 L253.78,430.82 L254.06,430.46 L254.34,430.10 L254.62,429.74 L254.90,429.38 L255.17,429.01 L255.45,428.65 L255.73,428.29 L256.01,427.93 L256.29,427.57 L256.56,427.21 L256.84,426.86 L257.12,426.50 L257.40,426.14 L257.68,425.78 L257.96,425.43 L258.24,425.07 L258.52,424.72 L258.81,424.37 L259.09,424.02 L259.37,423.67 L259.66,423.32 L259.94,422.97 L260.23,422.62 L260.51,422.28 L260.80,421.94 L261.09,421.60 L261.38,421.26 L261.67,420.93 L261.97,420.59 L262.26,420.26 L262.56,419.93 L262.86,419.60 L263.15,419.28 L263.46,418.96 L263.76,418.64 L264.06,418.32 L264.37,418.01 L264.67,417.70 L264.98,417.39 L265.30,417.08 L265.61,416.78 L265.92,416.48 L266.24,416.19 L266.56,415.89 L266.88,415.60 L267.21,415.32 L267.53,415.03 L267.86,414.75 L268.19,414.47 L268.52,414.20 L268.86,413.93 L269.19,413.66 L269.53,413.40 L269.88,413.13 L270.22,412.88 L270.57,412.62 L270.92,412.37 L271.27,412.12 L271.63,411.88 L271.99,411.64 L272.35,411.40 L272.71,411.17 L273.08,410.94 L273.45,410.72 L273.82,410.50 L274.20,410.28 L274.57,410.07 L274.96,409.86 L275.34,409.65 L275.73,409.45 L276.12,409.25 L276.52,409.06 L276.91,408.87 L277.32,408.68 L277.72,408.50 L278.13,408.33 L278.54,408.15 L278.96,407.99 L279.38,407.82 L279.80,407.66 L280.23,407.51 L280.66,407.36 L281.09,407.21 L281.53,407.07 L281.96,406.93 L282.41,406.79 L282.85,406.66 L283.30,406.53 L283.75,406.41 L284.20,406.29 L284.66,406.17 L285.11,406.05 L285.57,405.94 L286.03,405.82 L286.49,405.71 L286.95,405.61 L287.41,405.50 L287.87,405.40 L288.34,405.29 L288.80,405.19 L289.26,405.09 L289.72,404.99 L290.19,404.89 L290.65,404.80 L291.11,404.71 L291.57,404.62 L292.03,404.53 L292.48,404.45 L292.94,404.38 L293.40,404.31 L293.85,404.24 L294.30,404.19 L294.75,404.14 L295.19,404.09 L295.63,404.06 L296.07,404.03 L296.51,404.01 L296.94,404.00 L297.37,404.00 L297.80,404.01 L298.22,404.03 L298.64,404.06 L299.06,404.10 L299.47,404.15 L299.87,404.22 L300.27,404.29 L300.67,404.39 L301.06,404.49 L301.44,404.61 L301.82,404.74 L302.19,404.89 L302.56,405.05 L302.93,405.22 L303.28,405.41 L303.64,405.61 L303.99,405.81 L304.33,406.04 L304.67,406.27 L305.00,406.51 L305.33,406.76 L305.65,407.03 L305.97,407.30 L306.29,407.58 L306.60,407.87 L306.91,408.17 L307.21,408.47 L307.51,408.79 L307.80,409.11 L308.09,409.44 L308.38,409.77 L308.66,410.11 L308.94,410.46 L309.21,410.81 L309.48,411.17 L309.75,411.53 L310.01,411.89 L310.27,412.26 L310.53,412.64 L310.78,413.01 L311.03,413.39 L311.28,413.77 L311.53,414.16 L311.77,414.54 L312.01,414.93 L312.24,415.32 L312.48,415.71 L312.71,416.11 L312.94,416.51 L313.17,416.90 L313.39,417.30 L313.62,417.71 L313.84,418.11 L314.06,418.51 L314.28,418.92 L314.50,419.32 L314.71,419.73 L314.93,420.14 L315.15,420.55 L315.36,420.96 L315.57,421.37 L315.79,421.78 L316.00,422.19 L316.21,422.61 L316.43,423.02 L316.64,423.43 L316.85,423.84 L317.06,424.26 L317.28,424.67 L317.49,425.08 L317.70,425.49 L317.92,425.90 L318.13,426.31 L318.34,426.73 L318.56,427.14 L318.77,427.54 L318.99,427.95 L319.21,428.36 L319.43,428.77 L319.65,429.17 L319.87,429.58 L320.09,429.98 L320.31,430.38 L320.53,430.78 L320.76,431.18 L320.99,431.58 L321.21,431.98 L321.44,432.37 L321.68,432.76 L321.91,433.15 L322.14,433.54 L322.38,433.93 L322.62,434.31 L322.86,434.69 L323.11,435.07 L323.35,435.45 L323.60,435.82 L323.85,436.19 L324.10,436.56 L324.36,436.92 L324.62,437.29 L324.88,437.65 L325.14,438.00 L325.41,438.36 L325.68,438.71 L325.95,439.05 L326.23,439.40 L326.51,439.74 L326.79,440.07 L327.08,440.41 L327.37,440.73 L327.66,441.06 L327.96,441.38 L328.26,441.70 L328.57,442.01 L328.87,442.32 L329.19,442.62 L329.50,442.92 L329.82,443.21 L330.15,443.50 L330.48,443.79 L330.81,444.07 L331.14,444.35 L331.48,444.62 L331.83,444.89 L332.17,445.16 L332.52,445.42 L332.88,445.67 L333.23,445.92 L333.59,446.17 L333.96,446.42 L334.32,446.65 L334.69,446.89 L335.07,447.12 L335.44,447.35 L335.82,447.57 L336.20,447.79 L336.59,448.00 L336.98,448.21 L337.37,448.42 L337.76,448.62 L338.15,448.82 L338.55,449.01 L338.95,449.20 L339.36,449.39 L339.76,449.57 L340.17,449.75 L340.58,449.92 L340.99,450.09 L341.41,450.26 L341.82,450.42 L342.24,450.58 L342.66,450.73 L343.08,450.88 L343.51,451.03 L343.93,451.17 L344.36,451.31 L344.79,451.44 L345.22,451.58 L345.65,451.70 L346.09,451.83 L346.52,451.95 L346.96,452.06 L347.40,452.18 L347.84,452.29 L348.28,452.39 L348.72,452.49 L349.16,452.59 L349.61,452.69 L350.05,452.78 L350.50,452.87 L350.94,452.95 L351.39,453.03 L351.84,453.11 L352.29,453.18 L352.73,453.25 L353.18,453.32 L353.63,453.38 L354.09,453.44 L354.54,453.50 L354.99,453.55 L355.44,453.60 L355.89,453.64 L356.34,453.69 L356.79,453.72 L357.25,453.76 L357.70,453.79 L358.15,453.82 L358.60,453.85 L359.05,453.87 L359.50,453.89 L359.95,453.91 L360.40,453.92 L360.85,453.93 L361.30,453.93 L361.75,453.94 L362.20,453.94 L362.65,453.93 L363.09,453.93 L363.54,453.92 L363.98,453.91 L364.43,453.89 L364.87,453.87 L365.31,453.85 L365.75,453.83 L366.19,453.80 L366.63,453.77 L367.06,453.73 L367.50,453.70" fill="none" stroke="#de8f05" stroke-width="1.5"/>
<path d="M209.70,450.30 L210.07,450.14 L210.45,449.99 L210.82,449.83 L211.20,449.67 L211.57,449.52 L211.95,449.36 L212.33,449.20 L212.70,449.05 L213.08,448.89 L213.45,448.73 L213.83,448.57 L214.20,448.42 L214.58,448.26 L214.95,448.10 L215.33,447.94 L215.70,447.78 L216.08,447.62 L216.45,447.46 L216.82,447.30 L217.20,447.14 L217.57,446.98 L217.94,446.82 L218.31,446.65 L218.69,446.49 L219.06,446.33 L219.43,446.16 L219.80,445.99 L220.17,445.83 L220.54,445.66 L220.90,445.49 L221.27,445.32 L221.64,445.15 L222.00,444.98 L222.37,444.80 L222.73,444.63 L223.10,444.45 L223.46,444.28 L223.82,444.10 L224.18,443.92 L224.54,443.74 L224.90,443.55 L225.26,443.37 L225.61,443.19 L225.97,443.00 L226.32,442.81 L226.67,442.62 L227.03,442.43 L227.38,442.24 L227.73,442.04 L228.07,441.85 L228.42,441.65 L228.77,441.45 L229.11,441.25 L229.45,441.04 L229.79,440.84 L230.13,440.63 L230.47,440.42 L230.81,440.21 L231.14,439.99 L231.47,439.78 L231.81,439.56 L232.14,439.34 L232.46,439.12 L232.79,438.89 L233.11,438.67 L233.44,438.44 L233.76,438.21 L234.08,437.97 L234.39,437.74 L234.71,437.50 L235.02,437.26 L235.33,437.01 L235.64,436.77 L235.95,436.52 L236.26,436.26 L236.56,436.01 L236.86,435.75 L237.16,435.50 L237.46,435.23 L237.76,434.97 L238.05,434.71 L238.35,434.44 L238.64,434.17 L238.93,433.90 L239.22,433.62 L239.51,433.35 L239.79,433.07 L240.08,432.79 L240.36,432.51 L240.65,432.23 L240.93,431.95 L241.21,431.66 L241.49,431.37 L241.77,431.08 L242.05,430.79 L242.32,430.50 L242.60,430.21 L242.88,429.92 L243.15,429.62 L243.43,429.32 L243.70,429.03 L243.98,428.73 L244.25,428.43 L244.52,428.13 L244.79,427.83 L245.07,427.52 L245.34,427.22 L245.61,426.92 L245.88,426.61 L246.15,426.31 L246.42,426.00 L246.70,425.70 L246.97,425.39 L247.24,425.08 L247.51,424.77 L247.78,424.47 L248.05,424.16 L248.33,423.85 L248.60,423.54 L248.87,423.23 L249.15,422.92 L249.42,422.61 L249.70,422.30 L249.97,422.00 L250.25,421.69 L250.52,421.38 L250.80,421.07 L251.08,420.76 L251.36,420.46 L251.64,420.15 L251.92,419.84 L252.20,419.53 L252.49,419.23 L252.77,418.92 L253.06,418.62 L253.34,418.32 L253.63,418.02 L253.92,417.71 L254.21,417.42 L254.50,417.12 L254.79,416.82 L255.09,416.53 L255.38,416.24 L255.68,415.94 L255.98,415.66 L256.28,415.37 L256.58,415.09 L256.88,414.81 L257.18,414.53 L257.49,414.25 L257.80,413.98 L258.10,413.71 L258.41,413.44 L258.73,413.18 L259.04,412.92 L259.35,412.66 L259.67,412.41 L259.99,412.16 L260.31,411.91 L260.63,411.67 L260.95,411.43 L261.28,411.20 L261.60,410.97 L261.93,410.74 L262.26,410.52 L262.60,410.31 L262.93,410.10 L263.27,409.89 L263.61,409.69 L263.95,409.49 L264.29,409.30 L264.64,409.12 L264.98,408.94 L265.33,408.77 L265.68,408.60 L266.04,408.44 L266.39,408.28 L266.75,408.13 L267.11,407.99 L267.47,407.85 L267.84,407.72 L268.20,407.60 L268.57,407.48 L268.94,407.36 L269.31,407.26 L269.68,407.16 L270.06,407.06 L270.43,406.97 L270.81,406.89 L271.19,406.82 L271.57,406.75 L271.95,406.68 L272.33,406.62 L272.71,406.57 L273.09,406.52 L273.47,406.48 L273.85,406.45 L274.24,406.42 L274.62,406.40 L275.00,406.38 L275.39,406.37 L275.77,406.36 L276.15,406.36 L276.54,406.37 L276.92,406.38 L277.30,406.40 L277.68,406.43 L278.06,406.46 L278.45,406.49 L278.82,406.53 L279.20,406.58 L279.58,406.63 L279.96,406.69 L280.33,406.75 L280.71,406.82 L281.08,406.90 L281.45,406.98 L281.82,407.06 L282.19,407.16 L282.56,407.25 L282.93,407.36 L283.29,407.46 L283.66,407.57 L284.02,407.69 L284.38,407.81 L284.74,407.94 L285.10,408.07 L285.46,408.21 L285.82,408.35 L286.18,408.50 L286.53,408.65 L286.89,408.80 L287.24,408.96 L287.59,409.13 L287.95,409.30 L288.30,409.47 L288.64,409.65 L288.99,409.83 L289.34,410.01 L289.69,410.20 L290.03,410.39 L290.37,410.59 L290.72,410.79 L291.06,410.99 L291.40,411.20 L291.74,411.41 L292.08,411.63 L292.42,411.85 L292.75,412.07 L293.09,412.29 L293.42,412.52 L293.76,412.75 L294.09,412.99 L294.42,413.22 L294.75,413.46 L295.08,413.71 L295.41,413.95 L295.74,414.20 L296.07,414.46 L296.39,414.71 L296.72,414.97 L297.04,415.23 L297.37,415.49 L297.69,415.75 L298.01,416.02 L298.33,416.29 L298.65,416.56 L298.97,416.83 L299.29,417.11 L299.61,417.39 L299.92,417.66 L300.24,417.95 L300.56,418.23 L300.87,418.51 L301.18,418.80 L301.50,419.09 L301.81,419.38 L302.12,419.67 L302.43,419.96 L302.74,420.25 L303.05,420.55 L303.36,420.84 L303.66,421.14 L303.97,421.44 L304.27,421.74 L304.58,422.04 L304.88,422.34 L305.19,422.64 L305.49,422.94 L305.79,423.25 L306.09,423.55 L306.39,423.85 L306.69,424.16 L306.99,424.46 L307.29,424.77 L307.59,425.07 L307.89,425.38 L308.18,425.69 L308.48,425.99 L308.78,426.30 L309.07,426.60 L309.36,426.91 L309.66,427.21 L309.95,427.52 L310.24,427.82 L310.54,428.13 L310.83,428.43 L311.12,428.74 L311.41,429.04 L311.70,429.34 L311.98,429.64 L312.27,429.94 L312.56,430.24 L312.85,430.54 L313.13,430.84 L313.42,431.14 L313.71,431.43 L313.99,431.73 L314.28,432.02 L314.56,432.31 L314.84,432.60 L315.13,432.89 L315.41,433.18 L315.69,433.47 L315.97,433.75 L316.26,434.04 L316.54,434.32 L316.82,434.60 L317.10,434.88 L317.38,435.16 L317.67,435.43 L317.95,435.71 L318.23,435.98 L318.51,436.26 L318.80,436.53 L319.08,436.80 L319.36,437.06 L319.65,437.33 L319.93,437.60 L320.21,437.86 L320.50,438.12 L320.79,438.38 L321.07,438.64 L321.36,438.90 L321.65,439.15 L321.94,439.41 L322.23,439.66 L322.52,439.91 L322.81,440.16 L323.10,440.41 L323.40,440.65 L323.69,440.90 L323.99,441.14 L324.29,441.38 L324.59,441.62 L324.89,441.86 L325.19,442.09 L325.49,442.33 L325.80,442.56 L326.10,442.79 L326.41,443.02 L326.72,443.24 L327.03,443.47 L327.34,443.69 L327.66,443.91 L327.98,444.13 L328.29,444.35 L328.61,444.57 L328.94,444.78 L329.26,444.99 L329.59,445.21 L329.92,445.41 L330.25,445.62 L330.58,445.83 L330.92,446.03 L331.26,446.23 L331.60,446.43 L331.94,446.63 L332.28,446.82 L332.63,447.01 L332.98,447.21 L333.34,447.40 L333.69,447.58 L334.05,447.77 L334.41,447.95 L334.78,448.13 L335.14,448.31 L335.51,448.49 L335.89,448.66 L336.26,448.84 L336.64,449.01 L337.03,449.18 L337.41,449.34 L337.80,449.51 L338.20,449.67 L338.59,449.83 L338.99,449.99 L339.39,450.15 L339.80,450.30" fill="none" stroke="#de8f05" stroke-width="1.1" stroke-dasharray="7.04 1.76 1.10 1.76"/>
<path d="M405.20,450.60 L406.21,450.52 L407.09,450.30 L407.88,449.96 L408.56,449.51 L409.16,448.96 L409.68,448.32 L410.12,447.61 L410.51,446.83 L410.84,446.00 L411.13,445.13 L411.39,444.22 L411.62,443.30 L411.84,442.38 L412.05,441.45 L412.25,440.53 L412.44,439.62 L412.63,438.70 L412.82,437.80 L413.00,436.89 L413.17,435.99 L413.34,435.09 L413.50,434.19 L413.66,433.29 L413.81,432.40 L413.97,431.51 L414.11,430.62 L414.26,429.73 L414.40,428.84 L414.53,427.95 L414.67,427.06 L414.80,426.17 L414.93,425.28 L415.06,424.39 L415.19,423.51 L415.31,422.62 L415.43,421.73 L415.55,420.83 L415.67,419.94 L415.79,419.05 L415.91,418.16 L416.02,417.27 L416.13,416.38 L416.24,415.48 L416.35,414.59 L416.46,413.70 L416.56,412.80 L416.66,411.91 L416.76,411.01 L416.86,410.12 L416.96,409.22 L417.06,408.33 L417.15,407.43 L417.24,406.53 L417.34,405.63 L417.43,404.74 L417.51,403.84 L417.60,402.94 L417.68,402.04 L417.77,401.15 L417.85,400.25 L417.93,399.35 L418.01,398.45 L418.09,397.55 L418.16,396.65 L418.23,395.75 L418.31,394.85 L418.38,393.95 L418.45,393.04 L418.52,392.14 L418.58,391.24 L418.65,390.34 L418.71,389.44 L418.78,388.53 L418.84,387.63 L418.90,386.73 L418.96,385.83 L419.01,384.92 L419.07,384.02 L419.12,383.12 L419.18,382.21 L419.23,381.31 L419.28,380.40 L419.33,379.50 L419.38,378.59 L419.42,377.69 L419.47,376.78 L419.52,375.88 L419.56,374.97 L419.60,374.07 L419.64,373.16 L419.68,372.26 L419.72,371.35 L419.76,370.45 L419.80,369.54 L419.83,368.63 L419.87,367.73 L419.90,366.82 L419.94,365.91 L419.97,365.01 L420.00,364.10 L420.04,363.19 L420.07,362.29 L420.10,361.38 L420.13,360.47 L420.16,359.57 L420.19,358.66 L420.22,357.75 L420.25,356.84 L420.28,355.94 L420.30,355.03 L420.33,354.12 L420.36,353.21 L420.39,352.31 L420.42,351.40 L420.44,350.49 L420.47,349.59 L420.50,348.68 L420.53,347.77 L420.56,346.86 L420.59,345.96 L420.61,345.05 L420.64,344.14 L420.67,343.24 L420.70,342.33 L420.73,341.42 L420.76,340.52 L420.80,339.61 L420.83,338.70 L420.86,337.80 L420.89,336.89 L420.93,335.98 L420.96,335.08 L421.00,334.17 L421.04,333.27 L421.07,332.36 L421.11,331.46 L421.15,330.55 L421.19,329.64 L421.23,328.74 L421.28,327.83 L421.32,326.93 L421.36,326.03 L421.41,325.12 L421.46,324.22 L421.51,323.31 L421.56,322.41 L421.61,321.51 L421.66,320.60 L421.72,319.70 L421.77,318.80 L421.83,317.89 L421.89,316.99 L421.95,316.09 L422.02,315.19 L422.08,314.29 L422.15,313.38 L422.22,312.48 L422.29,311.58 L422.36,310.68 L422.43,309.78 L422.51,308.88 L422.59,307.98 L422.67,307.08 L422.75,306.18 L422.84,305.29 L422.93,304.39 L423.02,303.49 L423.11,302.59 L423.20,301.70 L423.30,300.80 L423.40,299.90 L423.50,299.01 L423.61,298.11 L423.72,297.21 L423.83,296.32 L423.94,295.43 L424.06,294.53 L424.17,293.64 L424.30,292.74 L424.42,291.85 L424.55,290.96 L424.68,290.07 L424.81,289.17 L424.95,288.28 L425.09,287.39 L425.23,286.50 L425.38,285.61 L425.53,284.72 L425.68,283.83 L425.84,282.95 L426.00,282.06 L426.16,281.17 L426.32,280.28 L426.49,279.40 L426.67,278.51 L426.85,277.63 L427.03,276.74 L427.21,275.86 L427.40,274.97 L427.59,274.10 L427.80,273.28 L428.02,272.60 L428.27,272.12 L428.55,271.91 L428.86,272.00 L429.19,272.36 L429.54,272.94 L429.87,273.70 L430.19,274.60 L430.50,275.60 L430.78,276.68 L431.04,277.77 L431.27,278.86 L431.49,279.91 L431.68,280.92 L431.86,281.90 L432.02,282.84 L432.16,283.76 L432.30,284.66 L432.42,285.54 L432.54,286.41 L432.65,287.28 L432.76,288.14 L432.86,289.01 L432.97,289.88 L433.07,290.76 L433.17,291.63 L433.27,292.51 L433.37,293.38 L433.47,294.26 L433.56,295.14 L433.66,296.03 L433.75,296.91 L433.84,297.80 L433.93,298.69 L434.02,299.58 L434.11,300.47 L434.19,301.36 L434.28,302.25 L434.36,303.15 L434.44,304.05 L434.52,304.94 L434.60,305.84 L434.68,306.74 L434.76,307.64 L434.84,308.54 L434.91,309.45 L434.99,310.35 L435.06,311.26 L435.13,312.16 L435.20,313.07 L435.27,313.97 L435.34,314.88 L435.41,315.79 L435.48,316.70 L435.55,317.61 L435.61,318.52 L435.68,319.43 L435.74,320.34 L435.81,321.25 L435.87,322.16 L435.93,323.07 L435.99,323.98 L436.05,324.89 L436.11,325.81 L436.17,326.72 L436.23,327.63 L436.29,328.54 L436.35,329.45 L436.41,330.36 L436.47,331.27 L436.52,332.18 L436.58,333.09 L436.64,334.00 L436.69,334.91 L436.75,335.82 L436.80,336.73 L436.86,337.64 L436.91,338.55 L436.97,339.45 L437.02,340.36 L437.08,341.27 L437.13,342.17 L437.18,343.08 L437.24,343.98 L437.29,344.89 L437.34,345.79 L437.40,346.69 L437.45,347.60 L437.50,348.50 L437.56,349.40 L437.61,350.30 L437.66,351.21 L437.72,352.11 L437.77,353.01 L437.83,353.91 L437.88,354.81 L437.93,355.71 L437.99,356.61 L438.04,357.51 L438.10,358.41 L438.15,359.31 L438.21,360.21 L438.26,361.11 L438.32,362.01 L438.37,362.91 L438.43,363.81 L438.48,364.71 L438.54,365.60 L438.60,366.50 L438.66,367.40 L438.71,368.30 L438.77,369.20 L438.83,370.09 L438.89,370.99 L438.95,371.89 L439.01,372.79 L439.07,373.69 L439.14,374.58 L439.20,375.48 L439.26,376.38 L439.32,377.28 L439.39,378.17 L439.45,379.07 L439.52,379.97 L439.59,380.87 L439.65,381.76 L439.72,382.66 L439.79,383.56 L439.86,384.46 L439.93,385.36 L440.00,386.25 L440.07,387.15 L440.15,388.05 L440.22,388.95 L440.29,389.85 L440.37,390.75 L440.45,391.65 L440.52,392.54 L440.60,393.44 L440.68,394.34 L440.76,395.24 L440.85,396.14 L440.93,397.04 L441.01,397.94 L441.10,398.84 L441.18,399.75 L441.27,400.65 L441.36,401.55 L441.45,402.45 L441.54,403.35 L441.64,404.26 L441.73,405.16 L441.82,406.06 L441.92,406.97 L442.02,407.87 L442.12,408.77 L442.22,409.68 L442.32,410.58 L442.42,411.49 L442.53,412.40 L442.64,413.30 L442.74,414.21 L442.85,415.12 L442.96,416.02 L443.08,416.93 L443.19,417.84 L443.31,418.75 L443.43,419.66 L443.54,420.57 L443.67,421.48 L443.79,422.39 L443.93,423.30 L444.07,424.20 L444.21,425.10 L444.37,426.00 L444.53,426.90 L444.70,427.79 L444.89,428.68 L445.09,429.56 L445.30,430.43 L445.53,431.30 L445.77,432.16 L446.03,433.02 L446.31,433.86 L446.61,434.70 L446.93,435.53 L447.27,436.34 L447.63,437.15 L448.01,437.94 L448.42,438.73 L448.86,439.50 L449.32,440.26 L449.80,441.00 L450.32,441.73 L450.87,442.45 L451.45,443.15 L452.06,443.83 L452.70,444.50" fill="none" stroke="#016eb2" stroke-width="1.5"/>
<path d="M406.30,450.00 L407.21,449.77 L408.01,449.44 L408.72,449.01 L409.34,448.49 L409.89,447.90 L410.36,447.23 L410.77,446.51 L411.13,445.73 L411.44,444.91 L411.71,444.05 L411.95,443.17 L412.17,442.28 L412.38,441.37 L412.57,440.47 L412.77,439.57 L412.95,438.67 L413.14,437.78 L413.31,436.88 L413.49,435.99 L413.66,435.10 L413.82,434.21 L413.99,433.33 L414.14,432.44 L414.30,431.56 L414.45,430.68 L414.60,429.80 L414.74,428.92 L414.88,428.04 L415.02,427.16 L415.15,426.29 L415.29,425.41 L415.42,424.53 L415.54,423.66 L415.67,422.78 L415.79,421.90 L415.91,421.03 L416.03,420.15 L416.15,419.28 L416.26,418.40 L416.38,417.52 L416.49,416.65 L416.60,415.77 L416.70,414.90 L416.81,414.02 L416.91,413.14 L417.01,412.27 L417.11,411.39 L417.21,410.51 L417.30,409.64 L417.40,408.76 L417.49,407.89 L417.58,407.01 L417.67,406.13 L417.76,405.26 L417.84,404.38 L417.92,403.50 L418.01,402.63 L418.09,401.75 L418.17,400.87 L418.24,399.99 L418.32,399.12 L418.39,398.24 L418.47,397.36 L418.54,396.48 L418.61,395.61 L418.68,394.73 L418.75,393.85 L418.81,392.97 L418.88,392.09 L418.94,391.21 L419.01,390.33 L419.07,389.45 L419.13,388.58 L419.19,387.70 L419.25,386.82 L419.30,385.94 L419.36,385.06 L419.42,384.18 L419.47,383.29 L419.52,382.41 L419.58,381.53 L419.63,380.65 L419.68,379.77 L419.73,378.89 L419.78,378.01 L419.83,377.12 L419.88,376.24 L419.92,375.36 L419.97,374.47 L420.02,373.59 L420.06,372.71 L420.11,371.82 L420.15,370.94 L420.19,370.05 L420.24,369.17 L420.28,368.28 L420.32,367.39 L420.36,366.51 L420.41,365.62 L420.45,364.73 L420.49,363.85 L420.53,362.96 L420.57,362.07 L420.61,361.18 L420.65,360.29 L420.69,359.40 L420.73,358.51 L420.77,357.62 L420.81,356.73 L420.85,355.84 L420.89,354.95 L420.92,354.06 L420.96,353.16 L421.00,352.27 L421.04,351.38 L421.08,350.49 L421.12,349.59 L421.16,348.70 L421.20,347.81 L421.24,346.91 L421.28,346.02 L421.32,345.12 L421.37,344.23 L421.41,343.33 L421.45,342.44 L421.49,341.54 L421.54,340.65 L421.58,339.76 L421.63,338.86 L421.67,337.97 L421.72,337.07 L421.76,336.18 L421.81,335.28 L421.86,334.39 L421.91,333.49 L421.96,332.60 L422.01,331.71 L422.06,330.81 L422.11,329.92 L422.16,329.03 L422.22,328.13 L422.27,327.24 L422.33,326.35 L422.39,325.46 L422.45,324.56 L422.51,323.67 L422.57,322.78 L422.63,321.89 L422.69,321.00 L422.76,320.11 L422.82,319.22 L422.89,318.33 L422.96,317.45 L423.03,316.56 L423.10,315.67 L423.18,314.79 L423.25,313.90 L423.33,313.02 L423.41,312.13 L423.49,311.25 L423.57,310.36 L423.65,309.48 L423.74,308.60 L423.83,307.72 L423.91,306.84 L424.01,305.96 L424.10,305.08 L424.19,304.21 L424.29,303.33 L424.39,302.45 L424.49,301.58 L424.59,300.70 L424.70,299.83 L424.80,298.96 L424.91,298.09 L425.02,297.22 L425.14,296.35 L425.25,295.48 L425.37,294.62 L425.49,293.75 L425.61,292.89 L425.74,292.02 L425.87,291.16 L426.00,290.30 L426.13,289.44 L426.27,288.58 L426.40,287.72 L426.54,286.87 L426.69,286.01 L426.83,285.16 L426.98,284.31 L427.13,283.46 L427.29,282.61 L427.44,281.76 L427.60,280.92 L427.77,280.07 L427.93,279.23 L428.10,278.39 L428.27,277.55 L428.45,276.71 L428.63,275.87 L428.81,275.06 L429.01,274.39 L429.23,273.98 L429.48,273.92 L429.75,274.20 L430.03,274.79 L430.31,275.64 L430.58,276.67 L430.84,277.79 L431.08,278.91 L431.30,279.99 L431.49,281.01 L431.66,281.99 L431.81,282.94 L431.95,283.86 L432.08,284.76 L432.19,285.64 L432.30,286.51 L432.40,287.37 L432.50,288.23 L432.60,289.09 L432.70,289.95 L432.80,290.81 L432.89,291.68 L432.99,292.54 L433.08,293.41 L433.17,294.28 L433.26,295.15 L433.35,296.02 L433.44,296.89 L433.53,297.76 L433.61,298.64 L433.70,299.51 L433.78,300.39 L433.87,301.26 L433.95,302.14 L434.03,303.02 L434.11,303.90 L434.19,304.78 L434.27,305.66 L434.34,306.54 L434.42,307.43 L434.49,308.31 L434.57,309.19 L434.64,310.08 L434.71,310.96 L434.79,311.85 L434.86,312.74 L434.93,313.62 L435.00,314.51 L435.07,315.40 L435.13,316.29 L435.20,317.17 L435.27,318.06 L435.33,318.95 L435.40,319.84 L435.46,320.73 L435.52,321.62 L435.59,322.51 L435.65,323.40 L435.71,324.29 L435.77,325.18 L435.83,326.07 L435.89,326.96 L435.95,327.85 L436.01,328.74 L436.07,329.63 L436.13,330.52 L436.18,331.41 L436.24,332.30 L436.30,333.19 L436.35,334.08 L436.41,334.97 L436.46,335.86 L436.52,336.75 L436.57,337.64 L436.63,338.52 L436.68,339.41 L436.73,340.30 L436.79,341.19 L436.84,342.07 L436.89,342.96 L436.95,343.84 L437.00,344.73 L437.05,345.62 L437.10,346.50 L437.16,347.39 L437.21,348.27 L437.26,349.15 L437.31,350.04 L437.36,350.92 L437.41,351.81 L437.47,352.69 L437.52,353.57 L437.57,354.46 L437.62,355.34 L437.67,356.22 L437.73,357.11 L437.78,357.99 L437.83,358.87 L437.88,359.75 L437.94,360.64 L437.99,361.52 L438.05,362.40 L438.10,363.28 L438.15,364.17 L438.21,365.05 L438.26,365.93 L438.32,366.81 L438.37,367.69 L438.43,368.57 L438.49,369.45 L438.54,370.34 L438.60,371.22 L438.66,372.10 L438.72,372.98 L438.78,373.86 L438.84,374.74 L438.90,375.62 L438.96,376.50 L439.02,377.39 L439.08,378.27 L439.14,379.15 L439.21,380.03 L439.27,380.91 L439.34,381.79 L439.40,382.67 L439.47,383.55 L439.54,384.44 L439.61,385.32 L439.68,386.20 L439.75,387.08 L439.82,387.96 L439.89,388.84 L439.96,389.73 L440.04,390.61 L440.11,391.49 L440.19,392.37 L440.26,393.25 L440.34,394.14 L440.42,395.02 L440.50,395.90 L440.58,396.79 L440.67,397.67 L440.75,398.55 L440.84,399.43 L440.92,400.32 L441.01,401.20 L441.10,402.09 L441.19,402.97 L441.28,403.85 L441.37,404.74 L441.47,405.62 L441.56,406.51 L441.66,407.39 L441.76,408.28 L441.86,409.17 L441.96,410.05 L442.06,410.94 L442.17,411.83 L442.27,412.71 L442.38,413.60 L442.49,414.49 L442.60,415.38 L442.71,416.26 L442.83,417.15 L442.94,418.04 L443.06,418.93 L443.18,419.82 L443.30,420.71 L443.43,421.60 L443.56,422.48 L443.70,423.37 L443.84,424.25 L443.99,425.13 L444.15,426.01 L444.32,426.88 L444.50,427.75 L444.69,428.61 L444.90,429.47 L445.12,430.32 L445.35,431.17 L445.60,432.01 L445.86,432.85 L446.14,433.67 L446.44,434.49 L446.76,435.30 L447.10,436.10 L447.46,436.89 L447.84,437.67 L448.25,438.44 L448.68,439.20 L449.13,439.95 L449.61,440.69 L450.11,441.41 L450.65,442.12 L451.21,442.82 L451.80,443.50" fill="none" stroke="#016eb2" stroke-width="1.1" stroke-dasharray="7.04 1.76 1.10 1.76"/>
<line x1="37.8" y1="455.30" x2="40.4" y2="455.30" stroke="#6a6a6a" stroke-width="1"/>
<text transform="matrix(1,0,0,1.12,0,-54.73)" x="35.5" y="459.30" font-family="Liberation Sans, sans-serif" stroke="#1e1e1e" stroke-width="0.22" font-size="9" fill="#1e1e1e" text-anchor="end">0</text>
<line x1="37.8" y1="424.70" x2="40.4" y2="424.70" stroke="#6a6a6a" stroke-width="1"/>
<text transform="matrix(1,0,0,1.12,0,-51.06)" x="35.5" y="428.70" font-family="Liberation Sans, sans-serif" stroke="#1e1e1e" stroke-width="0.22" font-size="9" fill="#1e1e1e" text-anchor="end">10</text>
<line x1="37.8" y1="394.10" x2="40.4" y2="394.10" stroke="#6a6a6a" stroke-width="1"/>
<text transform="matrix(1,0,0,1.12,0,-47.39)" x="35.5" y="398.10" font-family="Liberation Sans, sans-serif" stroke="#1e1e1e" stroke-width="0.22" font-size="9" fill="#1e1e1e" text-anchor="end">20</text>
<line x1="37.8" y1="363.50" x2="40.4" y2="363.50" stroke="#6a6a6a" stroke-width="1"/>
<text transform="matrix(1,0,0,1.12,0,-43.72)" x="35.5" y="367.50" font-family="Liberation Sans, sans-serif" stroke="#1e1e1e" stroke-width="0.22" font-size="9" fill="#1e1e1e" text-anchor="end">30</text>
<line x1="37.8" y1="332.90" x2="40.4" y2="332.90" stroke="#6a6a6a" stroke-width="1"/>
<text transform="matrix(1,0,0,1.12,0,-40.04)" x="35.5" y="336.90" font-family="Liberation Sans, sans-serif" stroke="#1e1e1e" stroke-width="0.22" font-size="9" fill="#1e1e1e" text-anchor="end">40</text>
<line x1="37.8" y1="302.30" x2="40.4" y2="302.30" stroke="#6a6a6a" stroke-width="1"/>
<text transform="matrix(1,0,0,1.12,0,-36.37)" x="35.5" y="306.30" font-family="Liberation Sans, sans-serif" stroke="#1e1e1e" stroke-width="0.22" font-size="9" fill="#1e1e1e" text-anchor="end">50</text>
<line x1="37.8" y1="271.70" x2="40.4" y2="271.70" stroke="#6a6a6a" stroke-width="1"/>
<text transform="matrix(1,0,0,1.12,0,-32.70)" x="35.5" y="275.70" font-family="Liberation Sans, sans-serif" stroke="#1e1e1e" stroke-width="0.22" font-size="9" fill="#1e1e1e" text-anchor="end">60</text>
<line x1="99.70" y1="455.6" x2="99.70" y2="458.20000000000005" stroke="#6a6a6a" stroke-width="1"/>
<text transform="matrix(1,0,0,1.12,0,-55.78)" x="99.70" y="467.9" font-family="Liberation Sans, sans-serif" stroke="#1e1e1e" stroke-width="0.22" font-size="9" fill="#1e1e1e" text-anchor="middle">0.60</text>
<line x1="160.64" y1="455.6" x2="160.64" y2="458.20000000000005" stroke="#6a6a6a" stroke-width="1"/>
<text transform="matrix(1,0,0,1.12,0,-55.78)" x="160.64" y="467.9" font-family="Liberation Sans, sans-serif" stroke="#1e1e1e" stroke-width="0.22" font-size="9" fill="#1e1e1e" text-anchor="middle">0.65</text>
<line x1="221.57" y1="455.6" x2="221.57" y2="458.20000000000005" stroke="#6a6a6a" stroke-width="1"/>
<text transform="matrix(1,0,0,1.12,0,-55.78)" x="221.57" y="467.9" font-family="Liberation Sans, sans-serif" stroke="#1e1e1e" stroke-width="0.22" font-size="9" fill="#1e1e1e" text-anchor="middle">0.70</text>
<line x1="282.51" y1="455.6" x2="282.51" y2="458.20000000000005" stroke="#6a6a6a" stroke-width="1"/>
<text transform="matrix(1,0,0,1.12,0,-55.78)" x="282.51" y="467.9" font-family="Liberation Sans, sans-serif" stroke="#1e1e1e" stroke-width="0.22" font-size="9" fill="#1e1e1e" text-anchor="middle">0.75</text>
<line x1="343.44" y1="455.6" x2="343.44" y2="458.20000000000005" stroke="#6a6a6a" stroke-width="1"/>
<text transform="matrix(1,0,0,1.12,0,-55.78)" x="343.44" y="467.9" font-family="Liberation Sans, sans-serif" stroke="#1e1e1e" stroke-width="0.22" font-size="9" fill="#1e1e1e" text-anchor="middle">0.80</text>
<line x1="404.38" y1="455.6" x2="404.38" y2="458.20000000000005" stroke="#6a6a6a" stroke-width="1"/>
<text transform="matrix(1,0,0,1.12,0,-55.78)" x="404.38" y="467.9" font-family="Liberation Sans, sans-serif" stroke="#1e1e1e" stroke-width="0.22" font-size="9" fill="#1e1e1e" text-anchor="middle">0.85</text>
<line x1="465.31" y1="455.6" x2="465.31" y2="458.20000000000005" stroke="#6a6a6a" stroke-width="1"/>
<text transform="matrix(1,0,0,1.12,0,-55.78)" x="465.31" y="467.9" font-family="Liberation Sans, sans-serif" stroke="#1e1e1e" stroke-width="0.22" font-size="9" fill="#1e1e1e" text-anchor="middle">0.90</text>
<text transform="translate(20.9,351.8) rotate(-90)" x="0" y="0" font-family="Liberation Sans, sans-serif" stroke="#1e1e1e" stroke-width="0.22" font-size="10.5" fill="#1e1e1e" text-anchor="middle">Density</text>
<text x="1.5" y="256.6" font-family="Liberation Sans, sans-serif" font-size="10.8" font-weight="bold" fill="#000" stroke="#000" stroke-width="0.2">B)</text>
<rect x="44.8" y="250.4" width="72.9" height="42.9" rx="2" ry="2" fill="#fff" fill-opacity="0.8" stroke="#dcdcdc" stroke-width="0.9"/>
<rect x="49.2" y="255.00" width="18.3" height="5.8" fill="#0173b2" fill-opacity="0.56" stroke="#0173b2" stroke-opacity="0.45" stroke-width="0.6"/>
<text x="75.4" y="261.10" font-family="Liberation Sans, sans-serif" stroke="#1e1e1e" stroke-width="0.22" font-size="9.3" fill="#1e1e1e">Accuracy</text>
<rect x="49.2" y="268.30" width="18.3" height="5.8" fill="#de8f05" fill-opacity="0.56" stroke="#de8f05" stroke-opacity="0.45" stroke-width="0.6"/>
<text x="75.4" y="274.40" font-family="Liberation Sans, sans-serif" stroke="#1e1e1e" stroke-width="0.22" font-size="9.3" fill="#1e1e1e">Precision</text>
<rect x="49.2" y="281.60" width="18.3" height="5.8" fill="#029e73" fill-opacity="0.56" stroke="#029e73" stroke-opacity="0.45" stroke-width="0.6"/>
<text x="75.4" y="287.70" font-family="Liberation Sans, sans-serif" stroke="#1e1e1e" stroke-width="0.22" font-size="9.3" fill="#1e1e1e">Recall</text>
</svg>
</body></html>
